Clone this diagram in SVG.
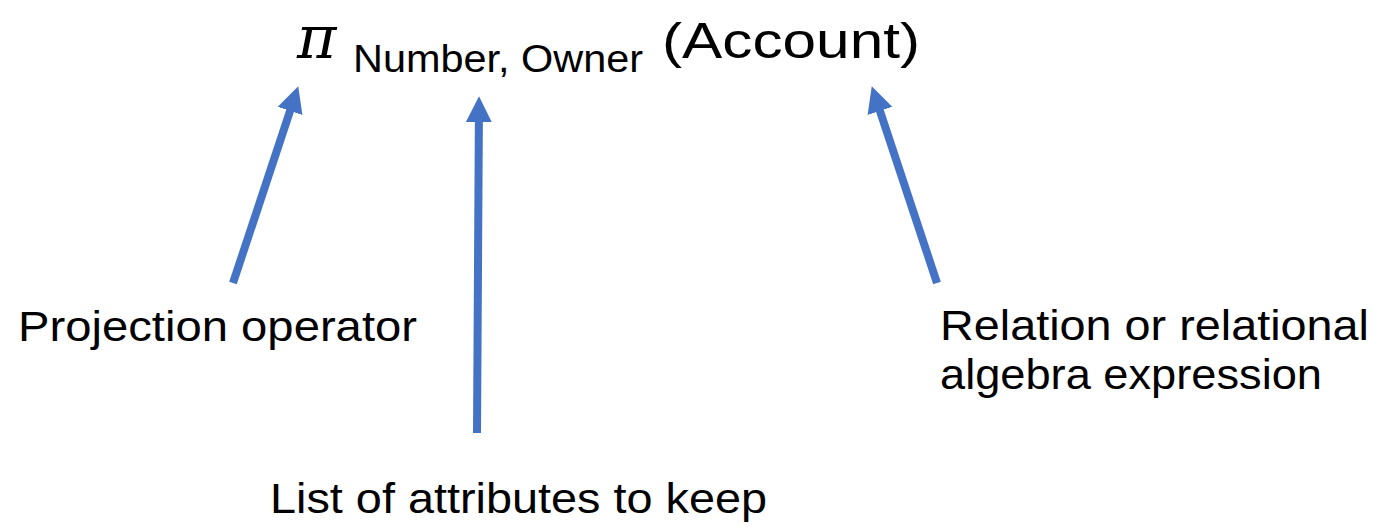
<svg xmlns="http://www.w3.org/2000/svg" width="1374" height="527" viewBox="0 0 1374 527">
<style>
.t{font-family:"Liberation Sans",Arial,sans-serif;fill:#000;}
.c{stroke:#4472C4;stroke-width:8;fill:none;}
</style>
<defs>
<marker id="ah" markerUnits="userSpaceOnUse" markerWidth="26" markerHeight="26" refX="5" refY="12.5" orient="auto" viewBox="0 0 25 25">
<path d="M0,0 L25,12.5 L0,25 z" fill="#4472C4"/>
</marker>
</defs>
<rect width="1374" height="527" fill="#fff"/>
<g id="expression">
<text x="297" y="58" font-family="'DejaVu Serif','Liberation Serif',serif" font-style="italic" font-size="60" fill="#000">π</text>
<text class="t" x="353" y="72" font-size="38" textLength="290" lengthAdjust="spacingAndGlyphs">Number, Owner</text>
<text class="t" x="662" y="58" font-size="50" textLength="258" lengthAdjust="spacingAndGlyphs">(Account)</text>
</g>
<g id="projection-operator">
<text class="t" x="18" y="341" font-size="42" textLength="399" lengthAdjust="spacingAndGlyphs">Projection operator</text>
</g>
<g id="attribute-list">
<text class="t" x="270" y="513" font-size="42" textLength="497" lengthAdjust="spacingAndGlyphs">List of attributes to keep</text>
</g>
<g id="relation">
<text class="t" x="940" y="340" font-size="42" textLength="429" lengthAdjust="spacingAndGlyphs">Relation or relational</text>
<text class="t" x="940" y="389" font-size="42" textLength="382" lengthAdjust="spacingAndGlyphs">algebra expression</text>
</g>
<g id="connectors">
<line class="c" x1="233" y1="283" x2="291.7" y2="106" marker-end="url(#ah)"/>
<line class="c" x1="477" y1="433" x2="478.9" y2="117" marker-end="url(#ah)"/>
<line class="c" x1="937" y1="283" x2="878.3" y2="106" marker-end="url(#ah)"/>
</g>
</svg>
